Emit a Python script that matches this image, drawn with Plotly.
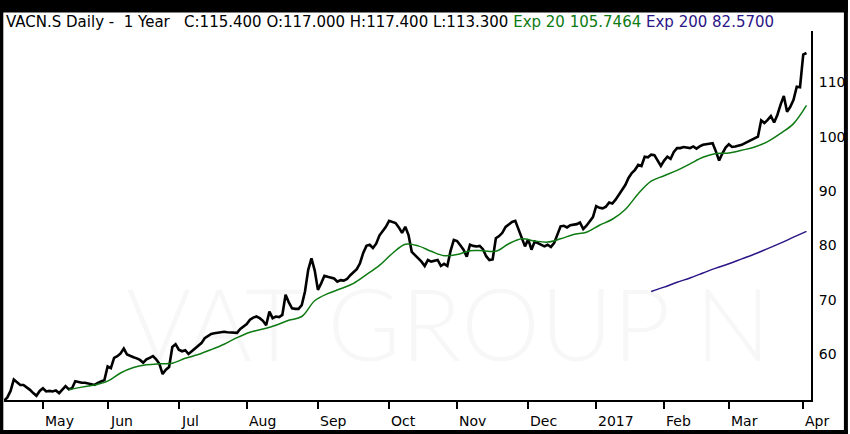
import pandas as pd
import plotly.graph_objects as go

# --- data ---
HEADER = "VACN.S Daily -\u00a0 1 Year\u00a0\u00a0 C:115.400 O:117.000 H:117.400 L:113.300"
EXP20_LABEL = "Exp 20 105.7464"
EXP200_LABEL = "Exp 200 82.5700"
WATERMARK = "VAT GROUP N"

START = "2016-04-14"
END = "2017-04-04"
HOLIDAYS = ["2016-05-05", "2016-05-16", "2016-08-01", "2016-12-26", "2017-01-02"]

CLOSE = [
    51.4, 52.0, 53.2, 55.3, 54.8, 54.3, 54.3, 53.9, 53.4, 52.8,
    52.3, 53.2, 53.7, 53.1, 53.2, 53.1, 53.3, 52.8, 53.5, 54.1,
    53.5, 53.7, 55.0, 54.8, 54.7, 54.7, 54.6, 54.5, 54.3, 54.7,
    55.0, 55.2, 57.7, 57.4, 59.3, 59.6, 60.1, 61.0, 59.9, 59.6,
    59.4, 59.2, 58.9, 58.4, 59.0, 59.3, 59.6, 59.0, 58.2, 56.3,
    57.1, 57.6, 61.3, 61.8, 60.8, 60.5, 60.7, 60.0, 60.5, 60.9,
    61.4, 62.0, 62.9, 63.3, 63.7, 63.8, 63.9, 63.9, 64.1, 64.0,
    64.0, 64.0, 63.9, 64.6, 65.0, 65.5, 66.3, 66.7, 66.9, 66.6,
    66.1, 65.3, 67.8, 66.6, 66.9, 66.8, 67.2, 70.9, 69.5, 68.4,
    68.3, 68.3, 69.0, 71.5, 75.5, 77.6, 75.4, 71.8, 73.0, 74.4,
    74.2, 74.1, 73.9, 73.3, 73.6, 73.5, 73.8, 74.5, 75.0, 75.6,
    76.7, 78.6, 79.9, 80.1, 79.5, 80.3, 81.8, 82.6, 83.4, 84.5,
    84.3, 84.1, 83.3, 82.3, 83.4, 81.9, 78.8, 78.2, 77.7, 77.0,
    76.2, 77.3, 77.0, 77.2, 77.3, 76.2, 76.6, 76.2, 79.0, 81.0,
    80.8, 80.0, 79.2, 77.9, 80.1, 79.9, 79.8, 79.9, 79.3, 78.0,
    77.3, 77.4, 81.3, 81.7, 82.3, 83.4, 83.9, 84.3, 84.5, 83.0,
    81.6, 79.8, 81.1, 79.2, 80.7, 80.4, 80.1, 79.8, 80.1, 79.7,
    80.4, 81.9, 83.5, 83.6, 83.3, 83.7, 83.8, 83.9, 84.2, 83.0,
    83.6, 84.5, 85.2, 87.2, 86.9, 86.8, 87.1, 87.9, 87.7, 88.4,
    89.3, 90.2, 91.1, 92.4, 93.3, 93.9, 94.8, 94.6, 96.3, 96.2,
    96.7, 96.6, 95.6, 94.6, 95.6, 96.3, 95.9, 97.2, 97.9, 97.9,
    98.1, 98.0, 97.9, 98.2, 97.8, 98.2, 98.5, 98.6, 98.7, 98.8,
    97.3, 95.6, 96.9, 98.0, 98.6, 98.1, 98.2, 98.3, 98.5, 98.8,
    99.1, 99.5, 99.8, 100.0, 103.0, 102.5, 103.1, 103.8, 102.6, 104.0,
    105.9, 107.5, 104.6, 105.5, 106.8, 109.2, 109.1, 115.1, 115.4,
]

# moving averages read every 4th session
EMA_STEP = 4
EMA20_FIRST = 20
EMA20 = [
    53.4, 53.9, 54.3, 55.0, 56.5, 57.5, 58.0, 58.2, 58.3, 59.2,
    59.9, 60.8, 61.8, 63.0, 64.0, 64.6, 65.3, 66.2, 66.9, 69.8,
    71.1, 72.0, 73.0, 74.6, 76.3, 78.5, 80.2, 79.9, 78.9, 78.1,
    78.3, 79.0, 79.0, 78.9, 80.3, 81.2, 80.8, 80.6, 81.2, 82.0,
    82.4, 83.7, 84.8, 86.6, 89.5, 91.8, 92.8, 93.8, 95.0, 96.2,
    96.9, 97.0, 97.5, 98.1, 99.1, 100.6, 102.4, 105.75,
]
EMA200_FIRST = 200
EMA200 = [71.5, 72.3, 73.2, 74.0, 74.9, 75.8, 76.6, 77.5, 78.4, 79.4, 80.4, 81.5, 82.57]

MONTH_LABELS = ["May", "Jun", "Jul", "Aug", "Sep", "Oct", "Nov", "Dec", "2017", "Feb", "Mar", "Apr"]
Y_TICKS = [60, 70, 80, 90, 100, 110]

GREEN = "#0d7a12"
NAVY = "#2c1586"
FONT = "DejaVu Sans"

days = pd.bdate_range(START, END)
days = days[~days.isin(pd.to_datetime(HOLIDAYS))]
dates = days.strftime("%Y-%m-%d").tolist()[:len(CLOSE)]

months = days.to_period("M")
month_starts = [d for i, d in enumerate(dates) if i > 0 and months[i] != months[i - 1]]

fig = go.Figure()
fig.add_trace(go.Scatter(x=dates, y=CLOSE, mode="lines",
                         line=dict(color="black", width=2.6)))
fig.add_trace(go.Scatter(x=dates[EMA20_FIRST::EMA_STEP], y=EMA20, mode="lines",
                         line=dict(color=GREEN, width=1.5, shape="spline")))
fig.add_trace(go.Scatter(x=dates[EMA200_FIRST::EMA_STEP], y=EMA200, mode="lines",
                         line=dict(color=NAVY, width=1.5, shape="spline")))

W, H = 850, 434
L, R, T, B = 4, 37, 31, 34
pw, ph = W - L - R, H - T - B


def px(x):
    return (x - L) / pw


def py(y):
    return (H - B - y) / ph


# black frame round the picture
frame = [(0, 0, W, 12.5), (0, 0, 3.3, H), (846, 0, W, H), (0, 430, W, H)]
shapes = [dict(type="rect", xref="paper", yref="paper", x0=px(a), x1=px(c),
               y0=py(d), y1=py(b), fillcolor="black", line_width=0, layer="above")
          for a, b, c, d in frame]

title = (f"{HEADER} <span style='color:{GREEN}'>{EXP20_LABEL}</span> "
         f"<span style='color:{NAVY}'>{EXP200_LABEL}</span>")
annotations = [
    dict(text=title, xref="paper", yref="paper", x=px(4), y=py(22), xanchor="left",
         yanchor="middle", showarrow=False, font=dict(family=FONT, size=15, color="black")),
    dict(text=WATERMARK, xref="paper", yref="paper", x=px(450), y=py(322),
         xanchor="center", yanchor="middle", showarrow=False,
         font=dict(family="Lato", size=100, color="rgba(0,0,0,0.03)", weight=300)),
]
for d, lab in zip(month_starts, MONTH_LABELS):
    annotations.append(dict(text=lab, x=d, xref="x", yref="paper", y=0, yanchor="top",
                            xanchor="left", yshift=-11, showarrow=False,
                            font=dict(family=FONT, size=14, color="black")))

fig.update_layout(
    width=W, height=H, margin=dict(l=L, r=R, t=T, b=B),
    paper_bgcolor="white", plot_bgcolor="white", showlegend=False,
    font=dict(family=FONT, size=14, color="black"),
    shapes=shapes, annotations=annotations,
    xaxis=dict(type="category", range=[-0.03, 249.4], showgrid=False, zeroline=False,
               showline=True, linecolor="black", linewidth=2, ticks="outside",
               ticklen=7, tickwidth=2, tickcolor="black", tickvals=month_starts,
               ticktext=[""] * len(month_starts)),
    yaxis=dict(side="right", range=[51.53, 119.45], showgrid=False, zeroline=False,
               showline=True, linecolor="black", linewidth=2, ticks="",
               tickvals=Y_TICKS, ticklabelstandoff=3,
               tickfont=dict(family=FONT, size=14, color="black")),
)

# the page body carries an 8px margin by default; drop it so the figure sits at 0,0
fig.write_html("out.html", config={"displayModeBar": False},
               post_script="document.body.style.margin='0';")
